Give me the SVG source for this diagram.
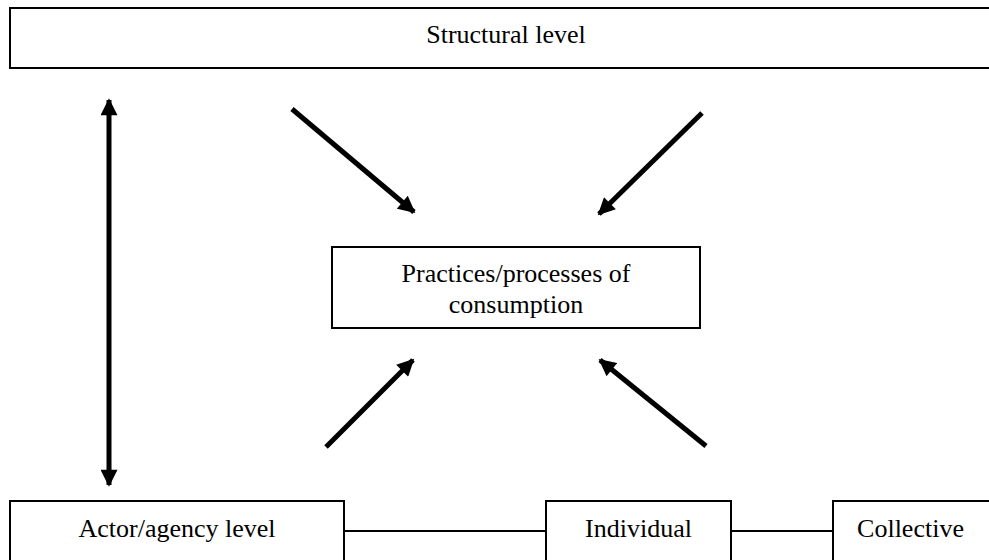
<svg xmlns="http://www.w3.org/2000/svg" width="989" height="560" viewBox="0 0 989 560">
<style>
.box{fill:#fff;stroke:#000;stroke-width:2}
.t{font-family:"Liberation Serif",serif;font-size:26px;fill:#000;text-anchor:middle}
.a{stroke:#000;stroke-width:5;fill:none}
.l{stroke:#000;stroke-width:2}
</style>
<defs>
<marker id="ah" viewBox="0 0 10 10" refX="9" refY="5" markerWidth="3.6" markerHeight="3.4" orient="auto-start-reverse" markerUnits="strokeWidth">
<path d="M0,0 L10,5 L0,10 Z" fill="#000"/>
</marker>
</defs>
<rect width="989" height="560" fill="#fff"/>
<g id="connectors">
<line class="a" x1="109" y1="100" x2="109" y2="485" marker-start="url(#ah)" marker-end="url(#ah)"/>
<line class="a" x1="292" y1="109" x2="414" y2="212" marker-end="url(#ah)"/>
<line class="a" x1="702" y1="113" x2="599" y2="214" marker-end="url(#ah)"/>
<line class="a" x1="326" y1="447" x2="413" y2="360" marker-end="url(#ah)"/>
<line class="a" x1="706" y1="446" x2="600" y2="360" marker-end="url(#ah)"/>
<line class="l" x1="344" y1="531" x2="546" y2="531"/>
<line class="l" x1="731" y1="531" x2="833" y2="531"/>
</g>
<g id="structural">
<rect class="box" x="10" y="8" width="992" height="60"/>
<text class="t" x="506" y="43">Structural level</text>
</g>
<g id="practices">
<rect class="box" x="332" y="247" width="368" height="81"/>
<text class="t" x="516" y="282">Practices/processes of</text>
<text class="t" x="516" y="313">consumption</text>
</g>
<g id="actor">
<rect class="box" x="10" y="501" width="334" height="70"/>
<text class="t" x="177" y="537">Actor/agency level</text>
</g>
<g id="individual">
<rect class="box" x="546" y="501" width="185" height="70"/>
<text class="t" x="638.5" y="537">Individual</text>
</g>
<g id="collective">
<rect class="box" x="833" y="501" width="160" height="70"/>
<text class="t" x="910.5" y="537">Collective</text>
</g>
</svg>
